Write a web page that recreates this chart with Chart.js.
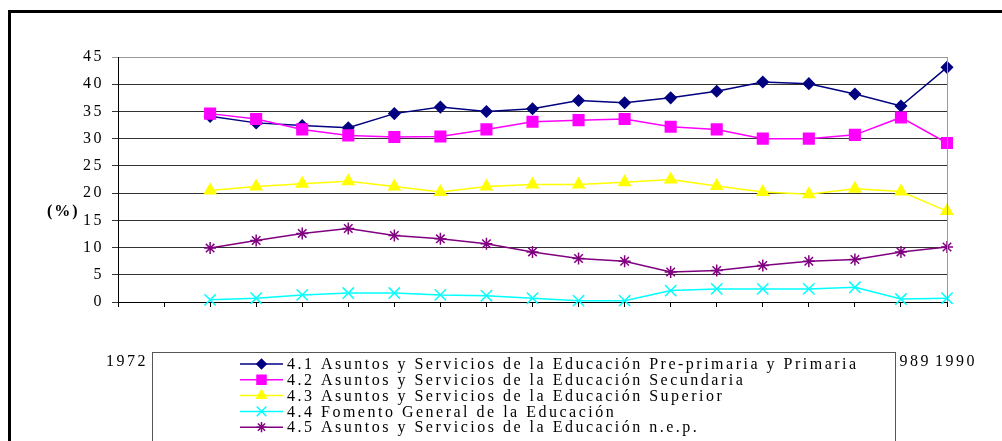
<!DOCTYPE html>
<html>
<head>
<meta charset="utf-8">
<script src="https://cdn.jsdelivr.net/npm/chart.js@4.4.0/dist/chart.umd.min.js"></script>
<style>
    html, body { margin: 0; padding: 0; background: #fff; }
    #wrap { position: relative; width: 1002px; height: 441px; overflow: hidden; }
    #frame { position: absolute; left: 8px; top: 10px; right: 0; bottom: 0;
             border-left: 3px solid #000; border-top: 3px solid #000; pointer-events: none; }
</style>
</head>
<body>
<div id="wrap">
    <canvas id="mainChart" width="1002" height="441"></canvas>
    <div id="frame"></div>
</div>
<script>
// Data
const years = ['1972', '1973', '1974', '1975', '1976', '1977', '1978', '1979', '1980', '1981',
               '1982', '1983', '1984', '1985', '1986', '1987', '1988', '1989', '1990'];

const primaria   = [null, null, 34.1, 32.9, 32.4, 32.0, 34.6, 35.8, 35.0, 35.5, 37.0, 36.6, 37.5, 38.7, 40.4, 40.1, 38.2, 36.0, 43.1];
const secundaria = [null, null, 34.6, 33.6, 31.7, 30.6, 30.3, 30.4, 31.7, 33.1, 33.4, 33.6, 32.2, 31.7, 30.0, 30.0, 30.7, 33.9, 29.2];
const superior   = [null, null, 20.5, 21.2, 21.7, 22.2, 21.2, 20.2, 21.2, 21.6, 21.6, 22.0, 22.5, 21.3, 20.2, 19.8, 20.8, 20.3, 16.7];
const fomento    = [null, null, 0.4, 0.7, 1.3, 1.65, 1.65, 1.3, 1.15, 0.7, 0.25, 0.25, 2.1, 2.4, 2.4, 2.4, 2.7, 0.55, 0.7];
const nep        = [null, null, 9.9, 11.3, 12.6, 13.5, 12.2, 11.6, 10.7, 9.2, 8.0, 7.5, 5.5, 5.8, 6.7, 7.5, 7.8, 9.2, 10.1];

const seriesLabels = [
    '4.1 Asuntos y Servicios de la Educación Pre-primaria y Primaria',
    '4.2 Asuntos y Servicios de la Educación Secundaria',
    '4.3 Asuntos y Servicios de la Educación Superior',
    '4.4 Fomento General de la Educación',
    '4.5 Asuntos y Servicios de la Educación n.e.p.'
];

const FONT = '"Liberation Serif", "Times New Roman", serif';

function makeDataset(i, data, color, style, radius) {
    return {
        label: seriesLabels[i],
        data: data,
        borderColor: color,
        backgroundColor: color,
        pointBorderColor: color,
        pointBackgroundColor: color,
        pointStyle: style,
        pointRadius: radius,
        pointBorderWidth: 1.5,
        borderWidth: 1.5,
        tension: 0,
        clip: false,
        order: 5 - i
    };
}

// Letter spacing like the old spreadsheet rendering
const spacing = {
    id: 'spacing',
    beforeDraw(chart) {
        chart.ctx.letterSpacing = '2.5px';
    }
};

// Right border of the plot area and the "(%)" label
const extras = {
    id: 'extras',
    afterDatasetsDraw(chart) {
        const { ctx, chartArea } = chart;
        ctx.save();
        ctx.strokeStyle = '#999';
        ctx.lineWidth = 1;
        ctx.beginPath();
        ctx.moveTo(chartArea.right + 0.5, chartArea.top);
        ctx.lineTo(chartArea.right + 0.5, chartArea.bottom);
        ctx.stroke();

        ctx.letterSpacing = '2px';
        ctx.fillStyle = '#000';
        ctx.font = 'bold 16px ' + FONT;
        ctx.textBaseline = 'middle';
        ctx.textAlign = 'left';
        ctx.fillText('(%)', chartArea.left - 71, chartArea.top + 155);
        ctx.restore();
    }
};

// Boxed legend that sits over the category labels
const boxLegend = {
    id: 'boxLegend',
    afterDraw(chart, args, opts) {
        const ctx = chart.ctx;
        ctx.save();
        ctx.fillStyle = '#fff';
        ctx.fillRect(opts.left, opts.top, opts.width, opts.height);
        ctx.strokeStyle = '#555';
        ctx.lineWidth = 1;
        ctx.strokeRect(opts.left + 0.5, opts.top + 0.5, opts.width, opts.height);

        ctx.letterSpacing = '2.5px';
        ctx.font = '16px ' + FONT;
        ctx.textBaseline = 'middle';
        ctx.textAlign = 'left';

        chart.data.datasets.forEach((ds, i) => {
            const y = opts.top + opts.firstRow + i * opts.rowHeight;
            ctx.strokeStyle = ds.borderColor;
            ctx.fillStyle = ds.backgroundColor;
            ctx.lineWidth = 1.5;
            ctx.beginPath();
            ctx.moveTo(opts.lineX, y);
            ctx.lineTo(opts.lineX + opts.lineWidth, y);
            ctx.stroke();
            Chart.helpers.drawPoint(ctx, {
                pointStyle: ds.pointStyle,
                radius: ds.pointRadius * 0.85,
                borderWidth: 1.5,
                rotation: 0
            }, opts.lineX + opts.lineWidth / 2, y);

            ctx.fillStyle = '#000';
            ctx.fillText(ds.label, opts.lineX + opts.lineWidth + 4, y + 1);
        });
        ctx.restore();
    }
};

let chart = null;

function createChart() {
    const ctx = document.getElementById('mainChart').getContext('2d');

    chart = new Chart(ctx, {
        type: 'line',
        data: {
            labels: years,
            datasets: [
                makeDataset(0, primaria, '#000080', 'rectRot', 5.5),
                makeDataset(1, secundaria, '#FF00FF', 'rect', 7.5),
                makeDataset(2, superior, '#FFFF00', 'triangle', 6.5),
                makeDataset(3, fomento, '#00FFFF', 'crossRot', 8),
                makeDataset(4, nep, '#800080', 'star', 6)
            ]
        },
        options: {
            responsive: false,
            animation: false,
            layout: {
                padding: { left: 0, top: 57, right: 55, bottom: 0 }
            },
            plugins: {
                legend: { display: false },
                tooltip: { enabled: false },
                title: { display: false },
                boxLegend: {
                    left: 152, top: 352, width: 743, height: 120,
                    firstRow: 12, rowHeight: 15.8,
                    lineX: 240, lineWidth: 43
                }
            },
            scales: {
                x: {
                    offset: false,
                    afterFit: (scale) => {
                        scale.height = 139;
                        // labels sit far below the axis; don't let that widen the side padding
                        scale.paddingLeft = 0;
                        scale.paddingRight = 0;
                    },
                    grid: {
                        drawOnChartArea: false,
                        drawTicks: true,
                        tickLength: 5,
                        color: '#000'
                    },
                    border: { color: '#000', width: 1 },
                    ticks: {
                        autoSkip: false,
                        maxRotation: 0,
                        minRotation: 0,
                        padding: 45,
                        labelOffset: 9,
                        color: '#000',
                        font: { family: FONT, size: 16 }
                    }
                },
                y: {
                    min: 0,
                    max: 45,
                    afterFit: (scale) => { scale.width = 118; },
                    grid: {
                        color: (c) => (c.tick && c.tick.value === 45) ? '#999' : '#333',
                        drawTicks: true,
                        tickLength: 6
                    },
                    border: { color: '#000', width: 1 },
                    ticks: {
                        stepSize: 5,
                        padding: 8,
                        color: '#000',
                        font: { family: FONT, size: 16 }
                    }
                }
            }
        },
        plugins: [spacing, extras, boxLegend]
    });
}

document.addEventListener('DOMContentLoaded', createChart);
</script>
</body>
</html>
